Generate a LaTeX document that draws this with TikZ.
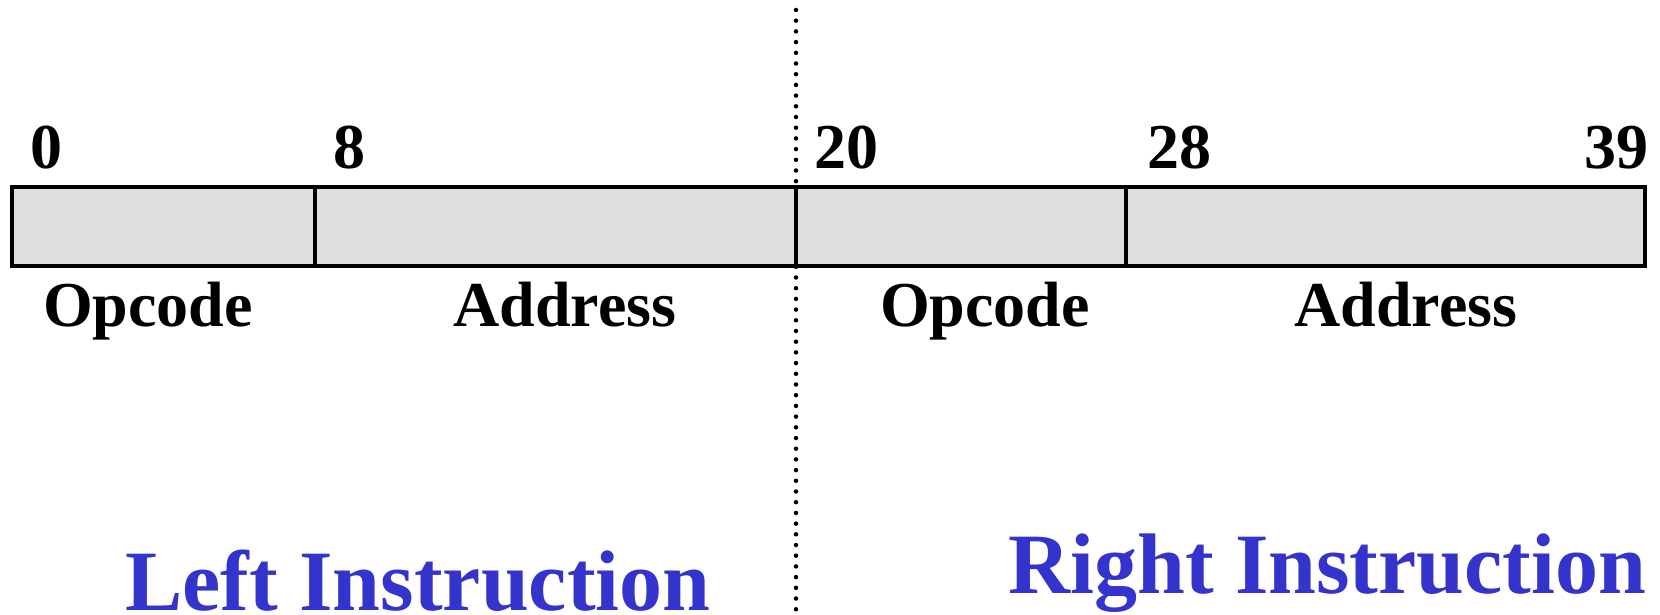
\documentclass[tikz,border=0pt]{standalone}
\usepackage{fontspec}
\setmainfont{Liberation Serif}
\definecolor{fieldgray}{HTML}{DFDFDF}
\definecolor{instrblue}{HTML}{3434CC}
\tikzset{
  field/.style={draw=black, line width=4.3pt, fill=fieldgray},
  bitnum/.style={inner sep=0pt, font=\fontsize{64}{70}\selectfont\bfseries},
  fieldname/.style={inner sep=0pt, anchor=base, font=\fontsize{64}{70}\selectfont\bfseries},
  halfname/.style={inner sep=0pt, anchor=base west, text depth=0pt, text=instrblue, font=\fontsize{86}{92}\selectfont\bfseries},
  splitline/.style={line width=4.5pt, line cap=round, dash pattern=on 0pt off 10.7pt}
}
\begin{document}
\begin{tikzpicture}[x=1pt, y=-1pt]
\useasboundingbox (0,0) rectangle (1660,615);

% dotted separator between the two instructions
\coordinate (septop) at (796,10);
\coordinate (sepbot) at (796,615);
\draw[splitline] (septop) -- (sepbot);

% 40-bit word with its four fields
\draw[field] (12,187) rectangle (1645,266);
\coordinate (d8t) at (315,187);  \coordinate (d8b) at (315,266);
\coordinate (d20t) at (796,187); \coordinate (d20b) at (796,266);
\coordinate (d28t) at (1126,187);\coordinate (d28b) at (1126,266);
\draw[line width=4.3pt] (d8t) -- (d8b);
\draw[line width=4.3pt] (d20t) -- (d20b);
\draw[line width=4.3pt] (d28t) -- (d28b);

% bit positions
\node[bitnum, anchor=base west] (b0)  at (30,168)   {0};
\node[bitnum, anchor=base west] (b8)  at (333,168)  {8};
\node[bitnum, anchor=base west] (b20) at (814,168)  {20};
\node[bitnum, anchor=base west] (b28) at (1147,168) {28};
\node[bitnum, anchor=base east] (b39) at (1649,168) {39};

% field names
\node[fieldname] (op1)   at (148,326)  {Opcode};
\node[fieldname] (addr1) at (565,326)  {Address};
\node[fieldname] (op2)   at (985,326)  {Opcode};
\node[fieldname] (addr2) at (1406,326) {Address};

% instruction halves
\node[halfname] (left)  at (125,610) {Left Instruction};
\node[halfname] (right) at (1008,593) {Right Instruction};
\end{tikzpicture}
\end{document}
